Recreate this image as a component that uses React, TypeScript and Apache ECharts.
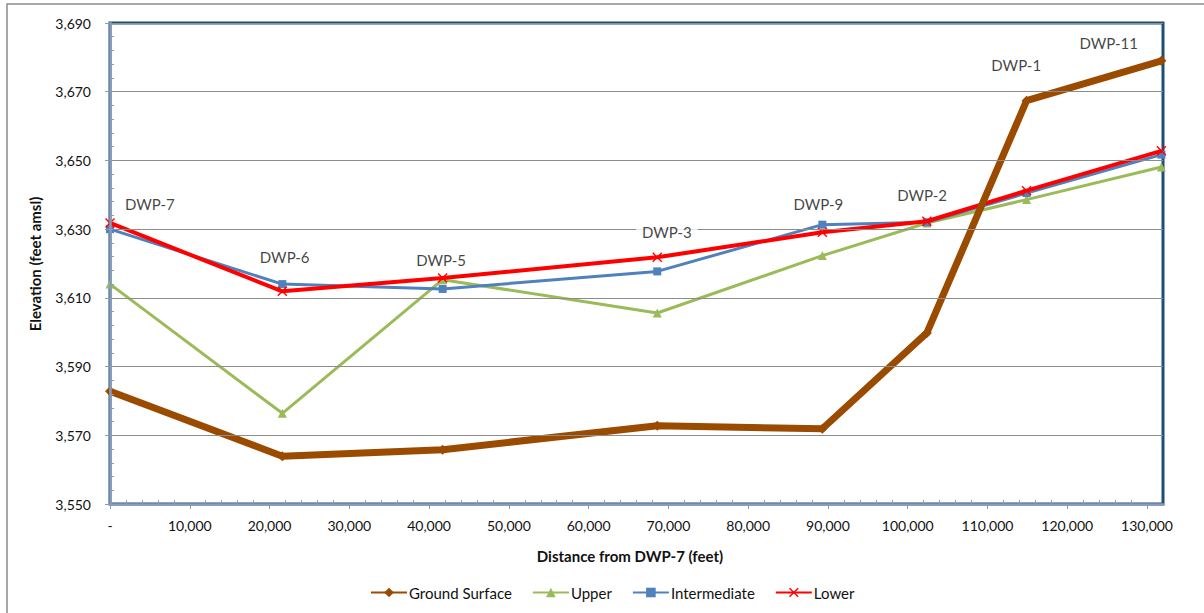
import React, { useEffect, useRef } from 'react';
import * as echarts from 'echarts';

// Well names and distances from DWP-7 (feet)
const wells = ['DWP-7', 'DWP-6', 'DWP-5', 'DWP-3', 'DWP-9', 'DWP-2', 'DWP-1', 'DWP-11'];
const distance = [0, 21600, 41700, 68600, 89300, 102400, 114900, 131800];

// Elevations (feet amsl)
const groundSurface = [3582.8, 3563.9, 3565.8, 3572.8, 3571.9, 3599.8, 3667.4, 3679.0];
const upper = [3614.0, 3576.4, 3615.3, 3605.6, 3622.3, 3631.8, 3638.6, 3648.1];
const intermediate = [3630.0, 3614.0, 3612.6, 3617.7, 3631.3, 3632.0, 3640.5, 3651.7];
const lower = [3631.8, 3611.9, 3615.8, 3621.8, 3629.1, 3632.3, 3641.2, 3652.8];

// Well annotation anchor positions (data coordinates)
const labelX = [5000, 21900, 41500, 69800, 88800, 101800, 113600, 125200];
const labelY = [3637.4, 3622.0, 3621.1, 3629.3, 3637.4, 3639.8, 3677.7, 3684.2];

// Axes
const yMin = 3550;
const yMax = 3690;
const yStep = 20;
const yMinorStep = 4;
const xMax = 132000;
const xStep = 10000;
const xMinorStep = 2000;
const xTickValues = [0, 10000, 20000, 30000, 40000, 50000, 60000, 70000, 80000, 90000, 100000, 110000, 120000, 130000];

const FONT = 'Lato, "Open Sans", "Noto Sans", sans-serif';
const AXIS_COLOR = '#8A9BB8';
const FRAME_COLOR = '#1F4E79';

export default function App() {
  const ref = useRef<HTMLDivElement>(null);

  useEffect(() => {
    if (!ref.current) return;
    const chart = echarts.init(ref.current, null, { renderer: 'svg' });

    const span = yMax - yMin;
    const toY = (v: number) => +(v - yMin).toFixed(3);
    const pairs = (vals: number[]) => distance.map((d, i) => [d, toY(vals[i])]);

    const xMinor: number[] = [];
    for (let v = xMinorStep; v < xMax; v += xMinorStep) if (v % xStep !== 0) xMinor.push(v);
    const yMinor: number[] = [];
    for (let v = yMinorStep; v < span; v += yMinorStep) if (v % yStep !== 0) yMinor.push(v);

    const xMark = 'path://M0,1 L1,0 L5,4 L9,0 L10,1 L6,5 L10,9 L9,10 L5,6 L1,10 L0,9 L4,5 Z';

    chart.setOption({
      animation: false,
      backgroundColor: '#ffffff',
      grid: {
        left: 110,
        right: 41,
        top: 23,
        bottom: 109,
        show: true,
        borderColor: FRAME_COLOR,
        borderWidth: 3,
        backgroundColor: 'transparent',
      },
      xAxis: [
        {
          type: 'value',
          position: 'bottom',
          min: 0,
          max: xMax,
          interval: xStep,
          z: 5,
          axisLine: { show: true, onZero: false, lineStyle: { color: AXIS_COLOR, width: 2.5 } },
          axisTick: { show: true, length: 5, customValues: xTickValues, lineStyle: { color: AXIS_COLOR, width: 1 } },
          axisLabel: {
            customValues: xTickValues,
            margin: 14,
            color: '#111',
            fontSize: 14,
            fontFamily: FONT,
            formatter: (v: number) => (v === 0 ? '-' : v.toLocaleString('en-US')),
          },
          splitLine: { show: false },
        },
        {
          type: 'value',
          position: 'bottom',
          min: 0,
          max: xMax,
          interval: xMinorStep,
          z: 5,
          axisLine: { show: false },
          axisTick: { show: true, inside: true, length: 4, customValues: xMinor, lineStyle: { color: AXIS_COLOR, width: 1 } },
          axisLabel: { show: false },
          splitLine: { show: false },
        },
      ],
      yAxis: [
        {
          type: 'value',
          position: 'left',
          min: 0,
          max: span,
          interval: yStep,
          z: 5,
          axisLine: { show: true, onZero: false, lineStyle: { color: AXIS_COLOR, width: 2.5 } },
          axisTick: { show: true, length: 5, lineStyle: { color: AXIS_COLOR, width: 1 } },
          axisLabel: {
            margin: 19,
            color: '#111',
            fontSize: 14,
            fontFamily: FONT,
            formatter: (v: number) => (v + yMin).toLocaleString('en-US'),
          },
          splitLine: { show: true, lineStyle: { color: '#8C8C8C', width: 1.2 } },
        },
        {
          type: 'value',
          position: 'left',
          min: 0,
          max: span,
          interval: yMinorStep,
          z: 5,
          axisLine: { show: false },
          axisTick: { show: true, inside: true, length: 4, customValues: yMinor, lineStyle: { color: AXIS_COLOR, width: 1 } },
          axisLabel: { show: false },
          splitLine: { show: false },
        },
      ],
      legend: {
        data: ['Ground Surface', 'Upper', 'Intermediate', 'Lower'],
        left: 365,
        top: 580,
        itemWidth: 36,
        itemHeight: 12,
        itemGap: 20,
        textStyle: { color: '#111', fontSize: 15, fontFamily: FONT, padding: [0, 0, 0, -3] },
      },
      series: [
        {
          name: 'Ground Surface',
          type: 'line',
          xAxisIndex: 0,
          yAxisIndex: 0,
          data: pairs(groundSurface),
          symbol: 'diamond',
          symbolSize: 10,
          lineStyle: { color: '#9A4B00', width: 7 },
          itemStyle: { color: '#9A4B00' },
          z: 4,
        },
        {
          name: 'Upper',
          type: 'line',
          xAxisIndex: 0,
          yAxisIndex: 0,
          data: pairs(upper),
          symbol: 'triangle',
          symbolSize: 9,
          lineStyle: { color: '#9BBB59', width: 3 },
          itemStyle: { color: '#9BBB59' },
          z: 2,
        },
        {
          name: 'Intermediate',
          type: 'line',
          xAxisIndex: 0,
          yAxisIndex: 0,
          data: pairs(intermediate),
          symbol: 'rect',
          symbolSize: 8,
          lineStyle: { color: '#4F81BD', width: 3 },
          itemStyle: { color: '#4F81BD' },
          z: 2,
        },
        {
          name: 'Lower',
          type: 'line',
          xAxisIndex: 0,
          yAxisIndex: 0,
          data: pairs(lower),
          symbol: xMark,
          symbolSize: 10,
          lineStyle: { color: '#FF0000', width: 4 },
          itemStyle: { color: '#FF0000' },
          z: 3,
        },
        {
          name: 'wells',
          type: 'scatter',
          xAxisIndex: 0,
          yAxisIndex: 0,
          silent: true,
          symbolSize: 1,
          itemStyle: { color: 'rgba(0,0,0,0)' },
          z: 6,
          data: labelX.map((x, i) => ({ value: [x, toY(labelY[i])], name: wells[i] })),
          label: {
            show: true,
            position: 'inside',
            formatter: (p: any) => p.name,
            color: '#111',
            fontSize: 15,
            fontFamily: FONT,
            backgroundColor: '#ffffff',
            padding: [2, 6],
          },
        },
      ],
      graphic: [
        {
          type: 'rect',
          shape: { x: 7, y: 4, width: 1220, height: 640 },
          style: { fill: 'none', stroke: '#8C8C8C', lineWidth: 1.5 },
          silent: true,
          z: -1,
        },
        {
          type: 'text',
          x: 35,
          y: 264,
          rotation: Math.PI / 2,
          style: {
            text: 'Elevation (feet amsl)',
            fill: '#111',
            font: `bold 15px ${FONT}`,
            align: 'center',
            verticalAlign: 'middle',
          },
        },
        {
          type: 'text',
          x: 630,
          y: 556,
          style: {
            text: 'Distance from DWP-7 (feet)',
            fill: '#111',
            font: `bold 15px ${FONT}`,
            align: 'center',
            verticalAlign: 'middle',
          },
        },
      ],
    });

    return () => chart.dispose();
  }, []);

  return (
    <div
      ref={ref}
      style={{ position: 'absolute', left: 0, top: 0, width: 1204, height: 613, background: '#fff' }}
    />
  );
}
